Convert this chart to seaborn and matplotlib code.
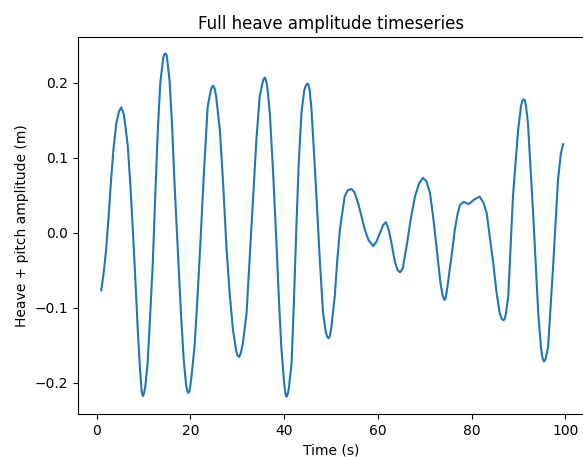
import matplotlib
matplotlib.use("Agg")
import matplotlib.pyplot as plt
import seaborn as sns
import pandas as pd

time_s = [
    1.0, 1.5, 2.05, 2.5, 3.1, 3.6, 4.2, 4.8, 5.3,
    5.8, 6.2, 6.67, 7.2, 7.74, 8.3, 8.8, 9.3, 9.6, 9.75, 9.94, 10.15,
    10.4, 10.9, 11.4, 12.0, 12.5, 13.07, 13.6, 14.2, 14.4, 14.65, 14.85, 15.0,
    15.56, 16.1, 16.6, 17.3, 18.0, 18.6, 19.1, 19.35, 19.6, 19.85,
    20.2, 20.9, 21.5, 22.1, 22.9, 23.7, 24.3, 24.6, 24.9, 25.2,
    25.5, 26.3, 27.0, 27.7, 28.4, 29.1, 29.8, 30.0, 30.4, 30.8,
    31.2, 32.0, 32.7, 33.4, 34.1, 34.8, 35.4, 35.65, 35.9, 36.15,
    36.4, 36.95, 37.7, 38.4, 38.9, 39.4, 40.0, 40.25, 40.5, 40.75,
    41.0, 41.6, 42.1, 42.6, 43.1, 43.7, 44.3, 44.7, 45.0, 45.2,
    45.4, 45.8, 46.3, 46.9, 47.6, 48.3, 48.9, 49.2, 49.5, 49.8,
    50.1, 50.8, 51.3, 51.9, 52.9, 53.6, 54.4,
    55.0, 55.8, 56.5, 57.2, 58.0, 59.0,
    59.7, 60.4, 61.1, 61.7,
    62.3, 62.9, 63.6, 64.2, 64.7,
    65.3, 66.1, 67.0, 67.9, 68.8, 69.6,
    70.3, 71.1, 71.8, 72.5, 73.3, 73.8, 74.2, 74.45,
    74.7, 75.3, 75.9, 76.4, 77.0, 77.5, 78.3,
    79.4, 80.5, 81.7, 82.5, 83.2, 84.6, 85.3, 86.0, 86.4, 86.8, 87.05,
    87.3, 87.8, 88.8, 89.9, 90.5, 90.8, 91.1, 91.35,
    91.6, 92.0, 93.1, 94.2, 94.8, 95.1, 95.4, 95.75,
    96.3, 97.4, 98.4, 99.0, 99.5,
]

heave_m = [
    -0.077, -0.055, -0.023, 0.015, 0.070, 0.110, 0.145, 0.162, 0.167,
    0.158, 0.140, 0.115, 0.065, 0.004, -0.065, -0.130, -0.185, -0.210, -0.216, -0.218, -0.214,
    -0.205, -0.174, -0.115, -0.040, 0.045, 0.137, 0.200, 0.232, 0.237, 0.239, 0.238, 0.235,
    0.204, 0.145, 0.070, -0.020, -0.107, -0.170, -0.203, -0.211, -0.214, -0.211,
    -0.195, -0.152, -0.090, -0.020, 0.080, 0.168, 0.188, 0.194, 0.196, 0.192,
    0.182, 0.137, 0.065, -0.019, -0.082, -0.130, -0.158, -0.163, -0.166, -0.160,
    -0.148, -0.107, -0.030, 0.048, 0.125, 0.182, 0.200, 0.205, 0.207, 0.203,
    0.195, 0.160, 0.075, -0.019, -0.090, -0.152, -0.200, -0.214, -0.219, -0.216,
    -0.208, -0.174, -0.090, 0.004, 0.090, 0.160, 0.190, 0.197, 0.199, 0.197,
    0.192, 0.168, 0.115, 0.048, -0.035, -0.107, -0.133, -0.139, -0.141, -0.137,
    -0.125, -0.085, -0.040, 0.004, 0.048, 0.057, 0.058,
    0.054, 0.039, 0.022, 0.004, -0.010, -0.018,
    -0.012, -0.001, 0.010, 0.014,
    0.004, -0.014, -0.038, -0.050, -0.053,
    -0.048, -0.019, 0.018, 0.048, 0.066, 0.073,
    0.069, 0.053, 0.020, -0.019, -0.065, -0.084, -0.090, -0.087,
    -0.078, -0.050, -0.022, 0.004, 0.025, 0.037, 0.041,
    0.038, 0.044, 0.048, 0.040, 0.026, -0.041, -0.080, -0.108, -0.115, -0.117, -0.115,
    -0.108, -0.085, 0.048, 0.137, 0.168, 0.176, 0.178, 0.176,
    0.168, 0.146, 0.026, -0.108, -0.155, -0.167, -0.172, -0.169,
    -0.152, -0.041, 0.070, 0.105, 0.118,
]

df = pd.DataFrame({"time": time_s, "heave": heave_m})

fig = plt.figure(figsize=(5.83, 4.57), dpi=100)
ax = fig.add_axes([78 / 583, 43 / 457, 506 / 583, 377 / 457])
sns.lineplot(data=df, x="time", y="heave", ax=ax, color="#1f77b4",
             linewidth=1.5, sort=False)
ax.set_title("Full heave amplitude timeseries", fontsize=12)
ax.set_xlabel("Time (s)", fontsize=10)
ax.set_ylabel("Heave + pitch amplitude (m)", fontsize=10)
ax.set_xticks([0, 20, 40, 60, 80, 100])
ax.set_yticks([-0.2, -0.1, 0.0, 0.1, 0.2])
ax.set_xlim(-3.95, 103.95)
ax.set_ylim(-0.242, 0.261)
ax.tick_params(labelsize=10)
fig.savefig("out.png", dpi=100)
